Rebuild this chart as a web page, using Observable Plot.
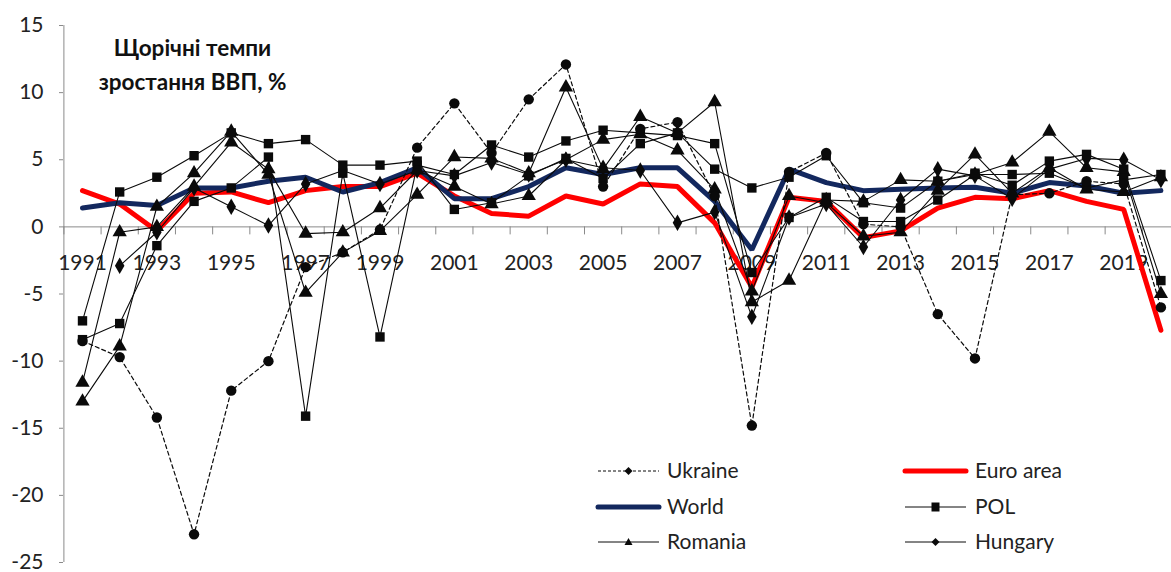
<!DOCTYPE html>
<html>
<head>
<meta charset="utf-8">
<script src="https://cdn.jsdelivr.net/npm/d3@7"></script>
<script src="https://cdn.jsdelivr.net/npm/@observablehq/plot@0.6"></script>
<style>
  html, body { margin: 0; padding: 0; background: #fff; }
  #wrap { position: relative; width: 1171px; height: 572px; overflow: hidden; font-family: Lato, "Open Sans", sans-serif; }
  #legend { position: absolute; left: 0; top: 0; }
</style>
</head>
<body>
<div id="wrap"></div>
<script>
// ---- data ----
const years = [1991,1992,1993,1994,1995,1996,1997,1998,1999,2000,2001,2002,2003,2004,2005,2006,2007,2008,2009,2010,2011,2012,2013,2014,2015,2016,2017,2018,2019,2020];
const ukraine = [-8.5,-9.7,-14.2,-22.9,-12.2,-10.0,-3.0,-1.9,-0.2,5.9,9.2,5.5,9.5,12.1,3.0,7.3,7.8,2.3,-14.8,4.1,5.5,0.2,0.0,-6.5,-9.8,2.4,2.5,3.4,3.2,-6.0];
const euroArea = [2.7,1.7,-0.3,2.5,2.6,1.8,2.7,3.0,3.0,4.0,2.3,1.0,0.8,2.3,1.7,3.2,3.0,0.3,-4.5,2.2,1.9,-0.8,-0.3,1.4,2.2,2.1,2.7,1.9,1.3,-7.7];
const world = [1.4,1.8,1.6,2.9,2.9,3.4,3.7,2.6,3.3,4.4,2.1,2.1,3.0,4.4,3.9,4.4,4.4,1.9,-1.7,4.3,3.3,2.7,2.8,2.9,2.95,2.5,3.3,3.05,2.5,2.7];
const pol = [-7.0,2.6,3.7,5.3,7.0,6.2,6.5,4.6,4.6,4.9,1.3,1.8,3.8,5.1,3.6,6.2,7.0,4.3,2.9,3.7,5.3,1.8,1.4,3.4,4.0,3.1,4.9,5.4,4.3,-4.0];
const squares2 = [-8.4,-7.2,-1.4,1.9,2.9,5.2,-14.1,4.0,-8.2,4.6,3.9,6.1,5.2,6.4,7.2,7.0,6.8,6.2,-3.4,0.7,2.2,0.4,0.4,2.0,3.9,3.9,4.0,2.9,3.5,3.9];
const romania = [-13.0,-8.9,1.5,4.0,7.1,3.9,-4.9,-1.9,-0.3,2.4,5.2,5.1,4.0,10.4,4.3,8.2,7.0,9.3,-5.6,-4.0,2.0,1.9,3.5,3.4,3.9,4.8,7.1,4.4,4.1,-5.0];
const triangles2 = [-11.6,-0.4,0.0,3.0,6.3,4.3,-0.5,-0.4,1.4,4.2,3.0,1.7,2.3,5.0,6.5,6.9,5.7,2.8,-4.8,2.3,1.8,-0.7,-0.4,2.7,5.4,2.5,4.4,2.8,2.6,3.7];
const hungary = [null,-2.9,-0.4,2.9,1.5,0.1,3.2,4.2,3.2,4.2,3.8,4.8,3.9,5.0,4.4,4.2,0.3,1.1,-6.7,0.7,1.7,-1.5,2.0,4.3,3.8,2.1,4.3,5.1,5.0,3.5];
const yTicks = [-25,-20,-15,-10,-5,0,5,10,15];
const xLabelYears = [1991,1993,1995,1997,1999,2001,2003,2005,2007,2009,2011,2013,2015,2017,2019];
const titleLines = ["Щорічні темпи", "зростання ВВП, %"];
const legendItems = [
  {name: "Ukraine", kind: "ukraine"},
  {name: "World", kind: "world"},
  {name: "Romania", kind: "romania"},
  {name: "Euro area", kind: "euro"},
  {name: "POL", kind: "pol"},
  {name: "Hungary", kind: "hungary"}
];

// ---- build ----
const rows = arr => years.map((yr, i) => ({year: yr, v: arr[i] == null ? NaN : arr[i]}));
const pts = arr => rows(arr).filter(d => !isNaN(d.v));
const boundaries = years.map(y => y + 0.5).concat([years[0] - 0.5]);
const pxPerUnit = (572 - 10 - 25) / 40;
const tickLen = 8 / pxPerUnit;

const black = "#0a0a0a";
const red = "#FF0000";
const navy = "#13285E";

const blackSeries = [
  {data: squares2, symbol: "square", r: 5.3},
  {data: triangles2, symbol: "triangle", r: 5.3},
  {data: romania, symbol: "triangle", r: 5.3},
  {data: hungary, symbol: "diamond", r: 5.0},
  {data: pol, symbol: "square", r: 5.3}
];

const marks = [
  Plot.ruleY([0], {stroke: "#8a8a8a", strokeWidth: 1}),
  Plot.ruleX(boundaries, {x: d => d, y1: 0, y2: -tickLen, stroke: "#8a8a8a"}),
  Plot.ruleX([years[0] - 0.5], {stroke: "#8a8a8a"}),
  Plot.axisY(yTicks, {anchor: "left", label: null, tickSize: 4, tickPadding: 16, tickFormat: d => String(d), stroke: "#8a8a8a", fill: "#222", fontSize: 21}),
  Plot.text(xLabelYears, {x: d => d, y: 0, dy: 36, text: d => String(d), fontSize: 21, fill: "#222"}),
  Plot.line(rows(euroArea), {x: "year", y: "v", stroke: red, strokeWidth: 5, strokeLinejoin: "miter"}),
  Plot.line(rows(world), {x: "year", y: "v", stroke: navy, strokeWidth: 5, strokeLinejoin: "miter"})
];
for (const s of blackSeries) {
  marks.push(Plot.line(rows(s.data), {x: "year", y: "v", stroke: black, strokeWidth: 1.1}));
}
marks.push(Plot.line(rows(ukraine), {x: "year", y: "v", stroke: black, strokeWidth: 1.2, strokeDasharray: "4,3"}));
for (const s of blackSeries) {
  marks.push(Plot.dot(pts(s.data), {x: "year", y: "v", symbol: s.symbol, r: s.r, fill: black, stroke: "none"}));
}
marks.push(Plot.dot(pts(ukraine), {x: "year", y: "v", symbol: "circle", r: 5.2, fill: black, stroke: "none"}));
marks.push(Plot.text([titleLines[0]], {frameAnchor: "top-left", dx: 129, dy: 23, text: d => d, textAnchor: "middle", lineAnchor: "middle", fontWeight: "bold", fontSize: 22.5, fill: "#111"}));
marks.push(Plot.text([titleLines[1]], {frameAnchor: "top-left", dx: 129, dy: 57, text: d => d, textAnchor: "middle", lineAnchor: "middle", fontWeight: "bold", fontSize: 22.5, fill: "#111"}));

const chart = Plot.plot({
  width: 1171,
  height: 572,
  marginLeft: 63,
  marginRight: 0,
  marginTop: 25,
  marginBottom: 10,
  x: {domain: [1990.5, 2020.5], range: [63.4, 1179], axis: null},
  y: {domain: [-25, 15], axis: null},
  style: {fontFamily: "Lato, 'Open Sans', sans-serif", fontSize: "21px", background: "white", overflow: "hidden"},
  marks
});
const wrap = document.getElementById("wrap");
wrap.appendChild(chart);

// ---- legend (overlay) ----
const ns = "http://www.w3.org/2000/svg";
const leg = document.createElementNS(ns, "svg");
leg.setAttribute("id", "legend");
leg.setAttribute("width", 1171);
leg.setAttribute("height", 572);
const colX = [598, 905];
const rowY = [471, 507, 542];
legendItems.forEach((it, i) => {
  const col = Math.floor(i / 3), row = i % 3;
  const x0 = colX[col], x1 = x0 + 61, y = rowY[row];
  const g = document.createElementNS(ns, "g");
  const line = document.createElementNS(ns, "line");
  line.setAttribute("x1", x0); line.setAttribute("x2", x1);
  line.setAttribute("y1", y); line.setAttribute("y2", y);
  let stroke = black, sw = 1;
  if (it.kind === "euro") { stroke = red; sw = 5; }
  if (it.kind === "world") { stroke = navy; sw = 5; }
  line.setAttribute("stroke", stroke);
  line.setAttribute("stroke-width", sw);
  if (sw === 5) line.setAttribute("stroke-linecap", "round");
  if (it.kind === "ukraine") line.setAttribute("stroke-dasharray", "3,2");
  g.appendChild(line);
  const cx = (x0 + x1) / 2;
  let sym = null;
  if (it.kind === "ukraine" || it.kind === "hungary") sym = `M${cx},${y-4}L${cx+4},${y}L${cx},${y+4}L${cx-4},${y}Z`;
  if (it.kind === "pol") sym = `M${cx-4},${y-4.5}h8v9h-8Z`;
  if (it.kind === "romania") sym = `M${cx},${y-4}L${cx+4},${y+3}L${cx-4},${y+3}Z`;
  if (sym) {
    const p = document.createElementNS(ns, "path");
    p.setAttribute("d", sym); p.setAttribute("fill", black);
    g.appendChild(p);
  }
  const t = document.createElementNS(ns, "text");
  t.setAttribute("x", x1 + (col === 0 ? 8 : 9));
  t.setAttribute("y", y);
  t.setAttribute("dy", "0.35em");
  t.setAttribute("font-size", 21);
  t.setAttribute("font-family", "Lato, 'Open Sans', sans-serif");
  t.setAttribute("fill", "#222");
  t.textContent = it.name;
  g.appendChild(t);
  leg.appendChild(g);
});
wrap.appendChild(leg);
</script>
</body>
</html>
